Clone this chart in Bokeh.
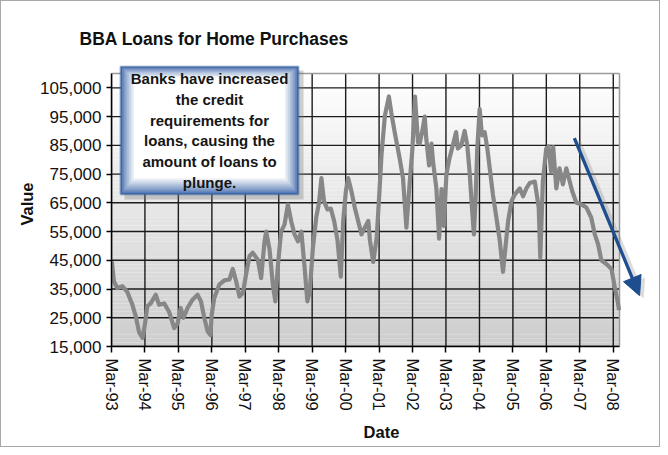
import numpy as np
import pandas as pd
from bokeh.plotting import figure
from bokeh.models import (Range1d, FixedTicker, DatetimeTickFormatter, NumeralTickFormatter,
                          BoxAnnotation, Label, Arrow, NormalHead)
from bokeh.embed import file_html
from bokeh.resources import INLINE

# ---------------- data ----------------
dates = [
    "1993-03-05", "1993-03-27", "1993-05-03", "1993-06-27", "1993-08-21", "1993-10-15",
    "1993-11-21", "1993-12-27", "1994-02-03", "1994-02-28", "1994-03-27", "1994-05-03",
    "1994-06-27", "1994-08-03", "1994-09-27", "1994-11-21", "1995-01-15", "1995-02-21",
    "1995-03-27", "1995-04-26", "1995-06-09", "1995-08-03", "1995-09-27", "1995-11-03",
    "1995-12-09", "1996-01-15", "1996-02-14", "1996-02-28", "1996-03-27", "1996-05-21",
    "1996-07-15", "1996-09-09", "1996-10-15", "1996-11-21", "1996-12-27", "1997-02-03",
    "1997-03-09", "1997-04-15", "1997-05-21", "1997-07-15", "1997-08-21", "1997-09-27",
    "1997-10-15", "1997-11-21", "1997-12-27", "1998-01-23", "1998-02-21", "1998-03-27",
    "1998-05-03", "1998-06-09", "1998-07-15", "1998-08-21", "1998-09-27", "1998-11-03",
    "1998-12-09", "1999-01-08", "1999-02-03", "1999-03-09", "1999-04-15", "1999-05-15",
    "1999-06-10", "1999-07-08", "1999-08-15", "1999-09-21", "1999-10-27", "1999-12-03",
    "2000-01-08", "2000-02-03", "2000-03-03", "2000-03-28", "2000-05-03", "2000-06-09",
    "2000-07-15", "2000-08-21", "2000-09-27", "2000-11-03", "2000-11-21", "2000-12-27",
    "2001-02-03", "2001-03-11", "2001-03-27", "2001-05-03", "2001-06-16", "2001-07-12",
    "2001-08-18", "2001-10-12", "2001-11-17", "2001-12-24", "2002-01-30", "2002-02-28",
    "2002-03-28", "2002-04-30", "2002-05-18", "2002-06-16", "2002-07-12",
    "2002-07-30", "2002-08-29", "2002-09-24", "2002-10-12", "2002-11-17", "2002-12-16",
    "2003-01-12", "2003-02-06", "2003-03-06", "2003-04-08", "2003-05-15", "2003-06-20",
    "2003-07-09", "2003-08-15", "2003-09-21", "2003-10-20", "2003-11-14", "2003-12-10",
    "2003-12-31", "2004-01-19", "2004-02-06", "2004-03-03", "2004-03-28", "2004-04-27",
    "2004-05-26", "2004-06-21", "2004-07-26", "2004-09-01", "2004-10-08", "2004-11-13",
    "2004-12-10", "2005-01-08", "2005-02-14", "2005-03-20", "2005-05-15", "2005-06-20",
    "2005-07-26", "2005-09-01", "2005-10-26", "2005-12-08", "2005-12-25", "2006-01-22",
    "2006-02-28", "2006-03-25", "2006-04-22", "2006-05-15", "2006-06-18", "2006-07-23",
    "2006-08-29", "2006-10-05", "2006-11-10", "2006-12-09", "2007-01-23", "2007-03-17",
    "2007-05-12", "2007-07-05", "2007-08-12", "2007-09-17", "2007-10-23", "2007-12-17",
    "2008-02-10", "2008-03-17", "2008-04-22", "2008-05-03",
]
values = [
    44600, 37700, 35300, 36000, 34000, 29500,
    25500, 20000, 18000, 22500, 29000, 30000,
    33000, 29500, 30000, 27000, 21400, 23000,
    28400, 25000, 28400, 31300, 33000, 30700,
    25000, 20200, 19000, 26000, 31900, 36500,
    38000, 38300, 42000, 37700, 32400, 33600,
    40000, 46400, 47600, 45200, 38800, 51600,
    55000, 48700, 36500, 30700, 43500, 55000,
    57400, 64400, 58600, 54000, 51600, 55000,
    42300, 30700, 34200, 49300, 60000, 65000,
    73600, 65600, 62700, 63000, 58700, 51900,
    39300, 58700, 69000, 73600, 69000, 63300,
    58700, 54000, 56400, 58700, 51900, 44400,
    53000, 72400, 81600, 95300, 102000, 96400,
    89600, 80400, 73600, 56400, 72400, 83900,
    102000, 86000, 85600, 90000, 95000,
    87000, 78000, 85600, 79000, 69800, 52500,
    69800, 57000, 75000, 80400, 85000, 89600,
    83900, 85000, 90000, 85000, 75800, 63300,
    54000, 66700, 83900, 97600, 88500, 89600,
    83900, 77000, 67800, 60000, 52000, 41000,
    49600, 58700, 65600, 67800, 70000, 67300,
    70000, 71900, 72400, 63300, 46000, 72400,
    83900, 84600, 76000, 84400, 70000, 77000,
    71400, 77000, 72600, 69000, 65000, 64500,
    63400, 59800, 54000, 50600, 45000, 43700,
    42000, 35700, 30000, 27600,
]
y_ticks = [15000, 25000, 35000, 45000, 55000, 65000, 75000, 85000, 95000, 105000]
x_tick_dates = ["1993-03-01", "1994-03-01", "1995-03-01", "1996-03-01", "1997-03-01",
                "1998-03-01", "1999-03-01", "2000-03-01", "2001-03-01", "2002-03-01",
                "2003-03-01", "2004-03-01", "2005-03-01", "2006-03-01", "2007-03-01",
                "2008-03-01"]
title_text = "BBA Loans for Home Purchases"
x_label = "Date"
y_label = "Value"
note_text = ("Banks have increased\nthe credit\nrequirements for\n"
             "loans, causing the\namount of loans to\nplunge.")
x_start, x_end = "1993-03-01", "2008-05-08"
y_start, y_end = 15000, 110000
arrow_from = ("2007-01-01", 87500)
arrow_to = ("2008-12-13", 32700)

FONT = "Liberation Sans"

# ---------------- layout (pixels) ----------------
W, H = 660, 447
FRAME_L, FRAME_R, FRAME_T, FRAME_B = 110, 650, 60, 345   # drawing frame (larger than the plot area)
AREA_R, AREA_T = 618, 72                                 # visible plot-area right / top edge


def ms(d):
    return pd.Timestamp(d).value / 1e6


xs, xe = ms(x_start), ms(x_end)
x_view_end = xs + (xe - xs) * (FRAME_R - FRAME_L) / (AREA_R - FRAME_L)
y_view_end = y_start + (y_end - y_start) * (FRAME_B - FRAME_T) / (FRAME_B - AREA_T)

x_dates = pd.to_datetime(dates)
x_ticks = [ms(d) for d in x_tick_dates]

p = figure(width=W, height=H, x_axis_type="datetime",
           x_range=Range1d(xs, x_view_end),
           y_range=Range1d(y_start, y_view_end),
           output_backend="svg", toolbar_location=None,
           min_border_left=FRAME_L, min_border_right=W - FRAME_R,
           min_border_top=FRAME_T, min_border_bottom=H - FRAME_B,
           background_fill_color="white", border_fill_color="white")
p.styles = {"border": "1px solid #a8a8a8"}
p.outline_line_color = None
p.xgrid.visible = False
p.ygrid.visible = False

# plot-area vertical gradient (white at top -> grey at bottom)
nb = 70
edges = np.linspace(y_start, y_end, nb + 1)
shade = np.linspace(206, 255, nb)
cols = ["#%02x%02x%02x" % (int(s), int(s), int(s)) for s in shade]
p.quad(left=[xs] * nb, right=[xe] * nb, bottom=edges[:-1], top=edges[1:],
       fill_color=cols, line_color=None, level="image")

# grid lines limited to the plot area
grid_col = "#1c1c1c"
p.segment(x0=x_ticks, y0=[y_start] * len(x_ticks), x1=x_ticks, y1=[y_end] * len(x_ticks),
          line_color=grid_col, line_width=1.4)
p.segment(x0=[xs] * len(y_ticks), y0=y_ticks, x1=[xe] * len(y_ticks), y1=y_ticks,
          line_color=grid_col, line_width=1.4)
# plot-area outline (top and right)
p.segment(x0=[xs, xe], y0=[y_end, y_start], x1=[xe, xe], y1=[y_end, y_end],
          line_color="#9a9a9a", line_width=1.5)

p.line(x_dates, values, line_color="#878787", line_width=4.2, line_join="round")

# title
p.title.text = title_text
p.title.text_font = FONT
p.title.text_font_size = "17.5px"
p.title.text_font_style = "bold"
p.title.text_color = "#111111"
p.title.align = "left"
p.title.offset = -32
p.title.standoff = 26

# axes
p.yaxis.ticker = FixedTicker(ticks=y_ticks)
p.yaxis.formatter = NumeralTickFormatter(format="0,0")
p.xaxis.ticker = FixedTicker(ticks=x_ticks)
p.xaxis.formatter = DatetimeTickFormatter(years="%b-%y", months="%b-%y", days="%b-%y",
                                          hours="%b-%y", hourmin="%b-%y")
p.xaxis.major_label_orientation = "vertical"
p.yaxis.bounds = (y_start, y_end)
p.xaxis.bounds = (xs, xe)
for ax in (p.xaxis, p.yaxis):
    ax.major_label_text_font = FONT
    ax.major_label_text_color = "#111111"
    ax.axis_label_text_font = FONT
    ax.axis_label_text_font_style = "bold"
    ax.axis_label_text_font_size = "16.5px"
    ax.axis_label_text_color = "#111111"
    ax.axis_line_color = "black"
    ax.axis_line_width = 1.5
    ax.major_tick_line_color = "black"
    ax.major_tick_line_width = 1.5
    ax.major_tick_in = 0
    ax.minor_tick_line_color = None
p.yaxis.major_label_text_font_size = "17px"
p.xaxis.major_label_text_font_size = "16.5px"
p.yaxis.major_tick_out = 5
p.xaxis.major_tick_out = 6
p.yaxis.major_label_standoff = 5
p.xaxis.major_label_standoff = 6
p.yaxis.axis_label = y_label
p.xaxis.axis_label = x_label
p.yaxis.axis_label_standoff = 1
p.xaxis.axis_label_standoff = 9

# callout box (screen units, relative to the frame's lower-left corner)
bl, br, bb, bt = 9, 187, 152, 280
p.add_layout(BoxAnnotation(left=bl + 4, right=br + 5, bottom=bb - 5, top=bt - 4,
                           left_units="screen", right_units="screen",
                           bottom_units="screen", top_units="screen",
                           fill_color="#7a7a7a", fill_alpha=0.35, line_color=None,
                           level="overlay"))
layers = 9
for i in range(layers):
    t = (i / (layers - 1)) ** 0.8
    r = int(70 + (255 - 70) * t)
    g = int(110 + (255 - 110) * t)
    b = int(175 + (255 - 175) * t)
    inset = i * 1.7
    p.add_layout(BoxAnnotation(left=bl + inset, right=br - inset,
                               bottom=bb + inset * 1.2, top=bt - inset * 0.8,
                               left_units="screen", right_units="screen",
                               bottom_units="screen", top_units="screen",
                               fill_color="#%02x%02x%02x" % (r, g, b), fill_alpha=1.0,
                               line_color=None, level="overlay"))
p.add_layout(BoxAnnotation(left=bl, right=br, bottom=bb, top=bt,
                           left_units="screen", right_units="screen",
                           bottom_units="screen", top_units="screen",
                           fill_color=None, line_color="#22508f", line_width=2.2,
                           level="overlay"))
p.add_layout(Label(x=(bl + br) / 2, y=(bb + bt) / 2, x_units="screen", y_units="screen",
                   text=note_text, text_align="center", text_baseline="middle",
                   text_font=FONT, text_font_style="bold", text_font_size="15px",
                   text_line_height=1.23, text_color="#151515", level="overlay"))

# arrow with soft shadow
blue = "#1f4e8f"
shift_ms = 45 * 86400000
p.add_layout(Arrow(x_start=ms(arrow_from[0]) + shift_ms, y_start=arrow_from[1] - 1000,
                   x_end=ms(arrow_to[0]) + shift_ms, y_end=arrow_to[1] - 1000,
                   line_color="#8a8a8a", line_alpha=0.3, line_width=4.5,
                   end=NormalHead(size=19, fill_color="#8a8a8a", fill_alpha=0.3,
                                  line_color=None)))
p.add_layout(Arrow(x_start=ms(arrow_from[0]), y_start=arrow_from[1],
                   x_end=ms(arrow_to[0]), y_end=arrow_to[1],
                   line_color=blue, line_width=3.3,
                   end=NormalHead(size=19, fill_color=blue, line_color=blue, line_width=1)))

open("out.html", "w").write(file_html(p, INLINE))
